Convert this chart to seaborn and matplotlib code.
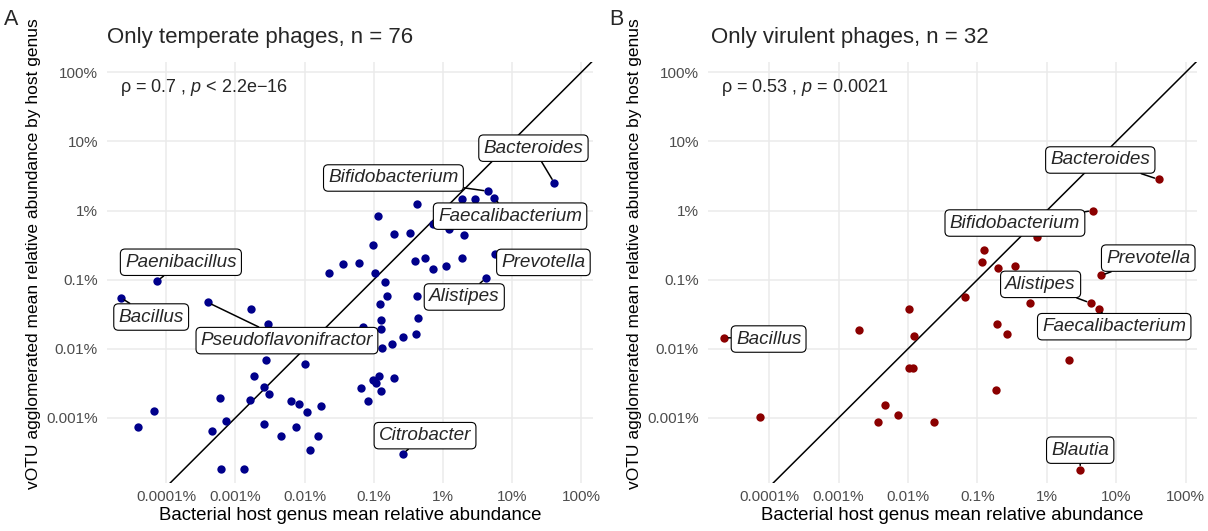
import numpy as np
import matplotlib
matplotlib.use("Agg")
import matplotlib.pyplot as plt
import seaborn as sns
from matplotlib.ticker import FixedLocator, FuncFormatter, NullLocator

# log10 of percent values
# Temperate phages: labelled genera
temp_lab_genus = ["Bacillus", "Paenibacillus", "Pseudoflavonifractor", "Citrobacter",
                  "Bacteroides", "Bifidobacterium", "Faecalibacterium", "Alistipes", "Prevotella"]
temp_lab_host = [-4.66, -4.13, -3.40, -0.58, 1.61, 0.65, 0.74, 0.62, 0.75]
temp_lab_votu = [-1.26, -1.02, -1.33, -3.52, 0.40, 0.28, 0.18, -0.98, -0.63]

# Temperate phages: remaining genera
temp_host = [-2.77, -2.53, -1.16, -2.56, -2.73, -2.58, -2.52, -2.79, -3.22, -3.13,
             -3.34, -4.18, -4.41, -3.21, -2.87, -2.00, -2.19, -2.08, -1.97, -1.77,
             -2.59, -2.13, -2.34, -1.80, -1.92, -1.64, -0.98, -0.84, -0.81, -0.91,
             -0.89, -0.90, -0.88, -0.74, -0.58, -0.93, -1.01, -0.97, -1.18, -0.89,
             -0.71, -1.08, -0.36, -0.39, 0.28, 0.46, -0.38, -0.94, -0.71, -0.47,
             -1.01, -1.44, -1.22, -0.37, -0.40, -0.26, -0.15, 0.04, 0.27, 0.30,
             0.09, -0.14]
temp_votu = [-1.42, -1.64, -1.69, -2.17, -2.40, -2.55, -2.66, -2.74, -2.71, -3.04,
             -3.19, -2.90, -3.14, -3.74, -3.74, -2.22, -2.76, -2.80, -2.92, -2.83,
             -3.09, -3.13, -3.26, -3.27, -3.46, -0.91, -0.91, -1.04, -1.23, -1.36,
             -1.59, -1.71, -1.99, -1.93, -1.83, -2.39, -2.46, -2.50, -2.57, -2.61,
             -2.43, -2.76, -1.56, -1.79, 0.17, 0.17, 0.10, -0.08, -0.34, -0.32,
             -0.50, -0.78, -0.76, -1.23, -0.73, -0.69, -0.85, -0.81, -0.68, -0.36,
             -0.27, -0.20]

# Virulent phages: labelled genera
vir_lab_genus = ["Bacillus", "Bacteroides", "Bifidobacterium", "Prevotella",
                 "Alistipes", "Faecalibacterium", "Blautia"]
vir_lab_host = [-4.65, 1.61, 0.66, 0.78, 0.63, 0.75, 0.48]
vir_lab_votu = [-1.84, 0.45, 0.00, -0.94, -1.34, -1.43, -3.75]

# Virulent phages: remaining genera
vir_host = [-4.13, -2.71, -1.99, -1.91, -1.98, -1.93, -2.33, -2.43, -2.15, -1.63,
            -0.14, -0.90, -0.93, -0.70, -0.46, -1.18, -0.24, -0.72, -0.57, 0.32, -0.73]
vir_votu = [-2.99, -1.73, -1.42, -1.81, -2.28, -2.28, -2.82, -3.06, -2.96, -3.06,
            -0.39, -0.57, -0.75, -0.83, -0.80, -1.25, -1.34, -1.64, -1.79, -2.17, -2.60]

# label offsets (points) from each labelled point
temp_offsets = [(22, -14), (17, 13.5), (57, -27.5), (16, 13), (-15, 25),
                (-68, 9.5), (11.5, -13), (-15.5, -13.5), (35, -6)]
vir_offsets = [(32, -1), (-42, 14), (-56, -9), (34, 12.5), (-36, 13.5), (11, -12.5), (0, 14)]

sns.set_style("white")
plt.rcParams["font.family"] = ["Liberation Sans", "DejaVu Sans"]
plt.rcParams["mathtext.fontset"] = "custom"
plt.rcParams["mathtext.rm"] = "Liberation Sans"
plt.rcParams["mathtext.it"] = "Liberation Sans:italic"

W, H = 1208, 531
fig = plt.figure(figsize=(W / 100, H / 100), dpi=100)


def pct(v):
    return 10 ** np.asarray(v, dtype=float)


def fmt_pct(v, pos):
    return "{:g}%".format(v)


def draw_panel(ax, host, votu, lab_host, lab_votu, lab_genus, offsets, color,
               xlim_log, title, stat, letter, letter_x, title_x, no_segment=()):
    ax.plot([1e-7, 1e4], [1e-7, 1e4], color="black", lw=1.1, zorder=2)
    sns.scatterplot(x=pct(host), y=pct(votu), ax=ax, color=color, s=36,
                    linewidth=0, zorder=3)
    sns.scatterplot(x=pct(lab_host), y=pct(lab_votu), ax=ax, color=color, s=36,
                    linewidth=0, zorder=3)
    ax.set_xscale("log")
    ax.set_yscale("log")
    ax.set_xlim(10 ** xlim_log[0], 10 ** xlim_log[1])
    ax.set_ylim(10 ** -3.944, 10 ** 2.15)
    ax.xaxis.set_major_locator(FixedLocator([1e-4, 1e-3, 1e-2, 1e-1, 1, 10, 100]))
    ax.yaxis.set_major_locator(FixedLocator([1e-3, 1e-2, 1e-1, 1, 10, 100]))
    ax.xaxis.set_minor_locator(NullLocator())
    ax.yaxis.set_minor_locator(NullLocator())
    ax.xaxis.set_major_formatter(FuncFormatter(fmt_pct))
    ax.yaxis.set_major_formatter(FuncFormatter(fmt_pct))
    ax.grid(True, color="#EBEBEB", lw=1.1, zorder=0)
    ax.set_axisbelow(True)
    for s in ax.spines.values():
        s.set_visible(False)
    ax.tick_params(axis="both", length=0, labelsize=11, labelcolor="#4D4D4D")
    ax.tick_params(axis="y", pad=6.5)
    ax.tick_params(axis="x", pad=5)
    ax.set_xlabel("Bacterial host genus mean relative abundance", fontsize=13.4, color="black")
    ax.set_ylabel("vOTU agglomerated mean relative abundance by host genus",
                  fontsize=12.5, color="black")
    ax.xaxis.set_label_coords(0.5, -0.058)
    ax.yaxis.set_label_coords(-0.135, 0.545)

    for g, hx, vy, off in zip(lab_genus, lab_host, lab_votu, offsets):
        arrow = None if g in no_segment else dict(arrowstyle="-", color="black",
                                                  lw=1.1, shrinkA=0, shrinkB=3)
        ax.annotate(g, xy=(10 ** hx, 10 ** vy), xytext=off, textcoords="offset points",
                    ha="center", va="center", fontsize=13.6, style="italic", zorder=5,
                    bbox=dict(boxstyle="round,pad=0.25,rounding_size=0.25", fc="white",
                              ec="black", lw=0.8),
                    arrowprops=arrow)

    ax.text(0.027, 0.929, stat, transform=ax.transAxes, fontsize=13,
            va="baseline", ha="left")
    fig.text(title_x / W, 1 - 43.5 / H, title, fontsize=16, va="baseline", ha="left")
    fig.text(letter_x / W, 1 - 25 / H, letter, fontsize=15.5, va="baseline", ha="left")


ax1 = fig.add_axes([107 / W, 1 - 483 / H, 486 / W, 421 / H])
draw_panel(ax1, temp_host, temp_votu, temp_lab_host, temp_lab_votu, temp_lab_genus,
           temp_offsets, "#00008B", (-4.857, 2.17),
           "Only temperate phages, n = 76",
           "ρ = 0.7 , $\\mathit{p}$ < 2.2e−16", "A", 4, 107,
           no_segment=("Prevotella",))

ax2 = fig.add_axes([708 / W, 1 - 483 / H, 489 / W, 421 / H])
draw_panel(ax2, vir_host, vir_votu, vir_lab_host, vir_lab_votu, vir_lab_genus,
           vir_offsets, "#8B0000", (-4.883, 2.163),
           "Only virulent phages, n = 32",
           "ρ = 0.53 , $\\mathit{p}$ = 0.0021", "B", 609, 711)

fig.savefig("out.png", dpi=100)
